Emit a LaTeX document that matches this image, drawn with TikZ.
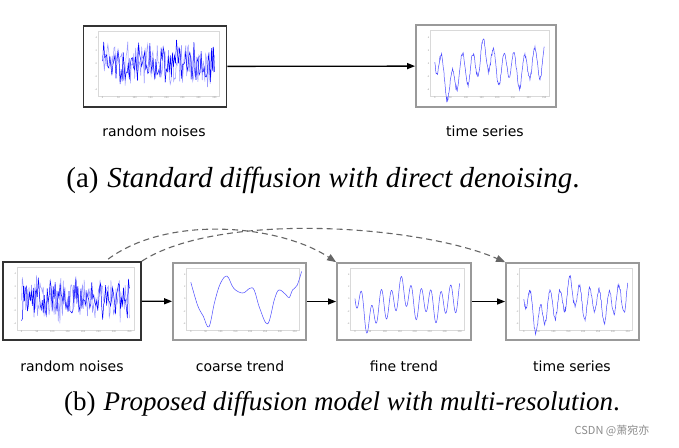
\documentclass[tikz,border=0pt]{standalone}
\usepackage{fontspec}
\setmainfont{Liberation Serif}
\newfontfamily\labelfont{DejaVu Sans}
\newfontfamily\cjk{Noto Sans CJK SC}
\usetikzlibrary{arrows.meta}
\definecolor{darkframe}{HTML}{333333}
\definecolor{grayframe}{HTML}{999999}
\definecolor{dashgray}{HTML}{666666}
\tikzset{
  darkbox/.style={draw=darkframe, line width=1.8pt, fill=white, inner sep=0pt},
  graybox/.style={draw=grayframe, line width=1.8pt, fill=white, inner sep=0pt},
  frame/.style={draw=black!15, line width=0.5pt},
  noise/.style={blue, line width=0.5pt},
  noiselight/.style={blue!40, line width=0.5pt},
  trend/.style={blue!70, line width=0.5pt},
  flow/.style={-{Triangle[length=8pt,width=6pt]}, line width=1.3pt, black},
  skip/.style={-{Triangle[length=9pt,width=7pt]}, dash pattern=on 6pt off 4pt, line width=1.1pt, dashgray},
  lab/.style={font=\labelfont\fontsize{14}{16}\selectfont},
  captext/.style={font=\fontsize{28.5}{31}\selectfont},
  tick/.style={font=\labelfont\fontsize{2.2}{2.5}\selectfont, text=black!45, inner sep=0.6pt},
  declare function={ts(\x)=0.45*sin(4140*\x+40)+0.18*sin(650*\x+120)+0.15*sin(1800*\x)-0.45*exp(-((\x-0.17)/0.08)^2)-0.3*exp(-((\x-0.6)/0.05)^2)+0.25*exp(-((\x-0.97)/0.05)^2);}
}
\newcommand\chart[5]{%
  \pgfmathsetmacro\cxa{#1-#3/2+0.10*#3}%
  \pgfmathsetmacro\cxb{#1+#3/2-0.05*#3}%
  \pgfmathsetmacro\cya{#2-#4/2+0.07*#4}%
  \pgfmathsetmacro\cyb{#2+#4/2-0.13*#4}%
  \pgfmathsetmacro\ciw{\cxb-\cxa}%
  \pgfmathsetmacro\cihh{(\cyb-\cya)/2}%
  \pgfmathsetmacro\cym{(\cya+\cyb)/2}%
  \draw[frame] (\cxa,\cya) rectangle (\cxb,\cyb);
  \begin{scope}[shift={(\cxa,\cym)}, x=\ciw pt, y=\cihh pt]
    #5
    \foreach \i/\t in {0/0,1/50,2/100,3/150,4/200,5/250,6/300,7/350}
      \node[tick, anchor=north] at ({0.04+\i*0.92/7},-1) {\t};
    \foreach \j/\t in {0/-4,1/-2,2/0,3/2,4/4}
      \node[tick, anchor=east] at (0,{-0.8+\j*0.4}) {\t};
  \end{scope}
}
\newcommand\noisesig[2]{%
  \pgfmathsetseed{#1}
  \draw[noiselight] plot[domain=0.04:0.96, samples=130] (\x,{0.6*rand+0.3*rand^3});
  \pgfmathsetseed{#2}
  \draw[noise] plot[domain=0.04:0.96, samples=110] (\x,{0.55*rand+0.3*rand^3});
}
\begin{document}
\begin{tikzpicture}[x=1pt,y=-1pt]
\useasboundingbox (0,0) rectangle (679,447);
\fill[white] (0,0) rectangle (679,447);

% ---------- (a) ----------
\node[darkbox, minimum width=143pt, minimum height=81pt] (a1) at (155,66.5) {};
\node[graybox, minimum width=140pt, minimum height=82pt] (a2) at (486,66) {};
\chart{155}{66.5}{143}{81}{\noisesig{11}{7}}
\chart{486}{66}{140}{82}{%
  \pgfmathsetseed{3}
  \draw[trend] plot[domain=0.04:0.96, samples=240] (\x,{ts(\x)+0.07*rand});
}
\draw[flow] (a1) -- (a2);
\node[lab] (l1) at (154,131) {random noises};
\node[lab] (l2) at (485,131) {time series};
\node[captext, font=\fontsize{29}{31}\selectfont] (ca) at (323,180) {(a)\hspace{0.3em}\textit{Standard diffusion with direct denoising}.};

% ---------- (b) ----------
\node[darkbox, minimum width=138pt, minimum height=78pt] (b1) at (72,301) {};
\node[graybox, minimum width=133pt, minimum height=77pt] (b2) at (239.5,301.5) {};
\node[graybox, minimum width=134pt, minimum height=77pt] (b3) at (404,301.5) {};
\node[graybox, minimum width=133pt, minimum height=77pt] (b4) at (572.5,301.5) {};
\chart{72}{301}{138}{78}{\noisesig{21}{5}}
\chart{239.5}{301.5}{133}{77}{%
  \draw[trend] plot[smooth, tension=0.6] coordinates {(0.04,0.55) (0.1,-0.2) (0.15,-0.55) (0.2,-0.9) (0.25,-0.1) (0.3,0.5) (0.36,0.75) (0.42,0.35) (0.5,0.2) (0.56,0.35) (0.6,0.3) (0.65,-0.3) (0.72,-0.8) (0.78,0.0) (0.82,0.3) (0.88,0.15) (0.91,0.05) (0.94,0.3) (0.98,0.45) (1.02,0.9)};
}
\chart{404}{301.5}{134}{77}{%
  \draw[trend] plot[domain=0.04:0.96, samples=240] (\x,{ts(\x)});
}
\chart{572.5}{301.5}{133}{77}{%
  \pgfmathsetseed{9}
  \draw[trend] plot[domain=0.04:0.96, samples=240] (\x,{ts(\x)+0.07*rand});
}
\draw[flow] (b1) -- (b2);
\draw[flow] (b2) -- (b3);
\draw[flow] (b3) -- (b4);
\draw[skip] (b1.north west) ++(106,-2) .. controls +(61,-45) and (280,225) .. (b3.north west);
\draw[skip] (b1.north east) .. controls +(78,-50) and (420,225) .. (b4.north west);
\node[lab] (l3) at (72,366) {random noises};
\node[lab] (l4) at (240,366) {coarse trend};
\node[lab] (l5) at (404,366) {fine trend};
\node[lab] (l6) at (572,366) {time series};
\node[captext, font=\fontsize{27}{30}\selectfont] (cb) at (342,404) {(b)\hspace{0.3em}\textit{Proposed diffusion model with multi-resolution}.};
\node[font=\cjk\fontsize{11}{13}\selectfont, text=black!45] (wm) at (612,431) {CSDN @萧宛亦};
\end{tikzpicture}
\end{document}
